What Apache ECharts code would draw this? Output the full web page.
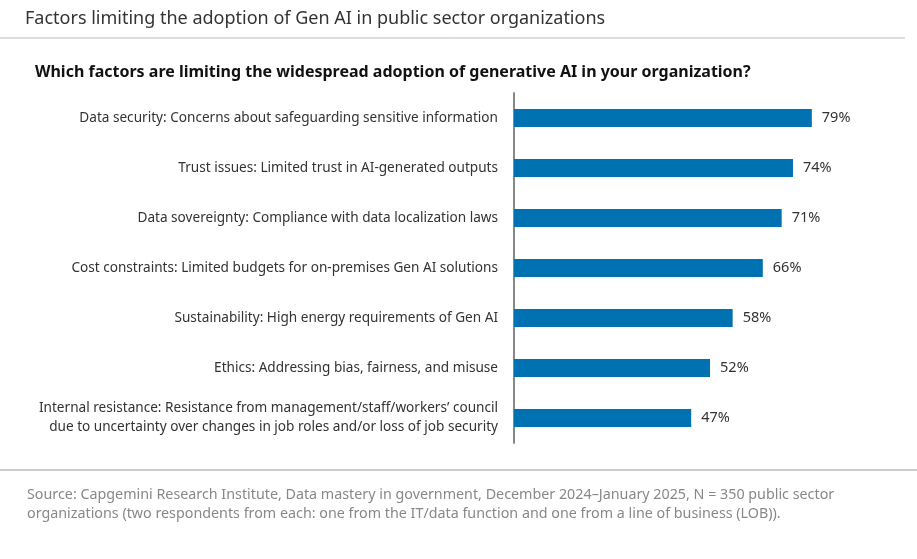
<!DOCTYPE html>
<html>
<head>
<meta charset="utf-8">
<script src="https://cdn.jsdelivr.net/npm/echarts@6/dist/echarts.min.js"></script>
<style>
  html, body { margin: 0; padding: 0; background: #fff; }
  #chart { width: 917px; height: 559px; }
</style>
</head>
<body>
<div id="chart"></div>
<script>
// factors (top to bottom)
var factors = [
  'Data security: Concerns about safeguarding sensitive information',
  'Trust issues: Limited trust in AI-generated outputs',
  'Data sovereignty: Compliance with data localization laws',
  'Cost constraints: Limited budgets for on-premises Gen AI solutions',
  'Sustainability: High energy requirements of Gen AI',
  'Ethics: Addressing bias, fairness, and misuse',
  'Internal resistance: Resistance from management/staff/workers\u2019 council\ndue to uncertainty over changes in job roles and/or loss of job security'
];
// share of organizations, %
var shares = [79, 74, 71, 66, 58, 52, 47];

var font = '"Noto Sans", sans-serif';
var myChart = echarts.init(document.getElementById('chart'));

var option = {
  backgroundColor: '#fff',
  animation: false,
  title: [
    {
      text: 'Factors limiting the adoption of Gen AI in public sector organizations',
      left: 20, top: 5,
      textStyle: { fontFamily: font, fontSize: 18, fontWeight: 'normal', color: '#333' }
    },
    {
      text: 'Which factors are limiting the widespread adoption of generative AI in your organization?',
      left: 30, top: 59,
      textStyle: { fontFamily: font, fontSize: 16, fontWeight: 'bold', color: '#111' }
    },
    {
      text: 'Source: Capgemini Research Institute, Data mastery in government, December 2024\u2013January 2025, N = 350 public sector\norganizations (two respondents from each: one from the IT/data function and one from a line of business (LOB)).',
      left: 22, top: 480,
      textStyle: { fontFamily: font, fontSize: 14.3, fontWeight: 'normal', color: '#888', lineHeight: 19 }
    }
  ],
  graphic: [
    { type: 'line', shape: { x1: 0, y1: 38, x2: 905, y2: 38 }, style: { stroke: '#bbb', lineWidth: 1 } },
    { type: 'line', shape: { x1: 0, y1: 470, x2: 917, y2: 470 }, style: { stroke: '#ccc', lineWidth: 2 } }
  ],
  grid: { left: 514, top: 93, width: 377, height: 350 },
  xAxis: {
    type: 'value', min: 0, max: 100, show: false
  },
  yAxis: {
    type: 'category',
    data: factors,
    inverse: true,
    axisLine: { show: true, lineStyle: { color: '#888', width: 2 } },
    axisTick: { show: false },
    axisLabel: {
      margin: 16, align: 'right',
      fontFamily: font, fontSize: 13.6, color: '#333', lineHeight: 19
    }
  },
  series: [{
    type: 'bar',
    data: shares,
    barWidth: 18,
    itemStyle: { color: '#0072b1' },
    label: {
      show: true, position: 'right', distance: 10,
      formatter: '{c}%',
      fontFamily: font, fontSize: 14.5, color: '#333'
    }
  }]
};
myChart.setOption(option);
</script>
</body>
</html>
